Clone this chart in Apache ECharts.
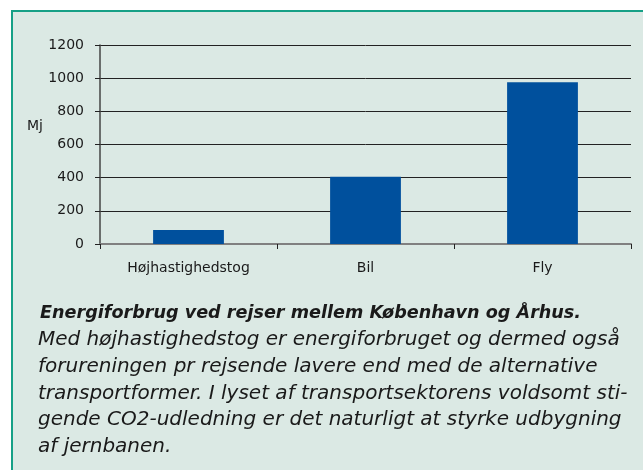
<!DOCTYPE html>
<html>
<head>
<meta charset="utf-8">
<script src="https://cdn.jsdelivr.net/npm/echarts@6/dist/echarts.min.js"></script>
<style>
    html, body { margin: 0; padding: 0; background: #fff; }
    #box {
        position: absolute; left: 11px; top: 10px; width: 640px; height: 470px;
        background: #dbe9e4; border-left: 2px solid #16a086; border-top: 2px solid #16a086;
    }
    #chart { position: absolute; left: 0; top: 0; width: 643px; height: 470px; }
</style>
</head>
<body>
<div id="box"></div>
<div id="chart"></div>
<script>
    // data
    const categories = ['Højhastighedstog', 'Bil', 'Fly'];
    const energy = [85, 405, 975];
    const yTicks = [0, 200, 400, 600, 800, 1000, 1200];
    const unitLabel = 'Mj';
    const captionTitle = 'Energiforbrug ved rejser mellem København og Århus.';
    const captionLines = [
        'Med højhastighedstog er energiforbruget og dermed også',
        'forureningen pr rejsende lavere end med de alternative',
        'transportformer. I lyset af transportsektorens voldsomt sti-',
        'gende CO2-udledning er det naturligt at styrke udbygning',
        'af jernbanen.'
    ];

    const chart = echarts.init(document.getElementById('chart'));
    const font = '"DejaVu Sans", sans-serif';

    const captionGraphics = [{
        type: 'text', x: 40, y: 313,
        style: { text: captionTitle, font: 'italic bold 17.6px ' + font, fill: '#1a1a1a', verticalAlign: 'middle' }
    }].concat(captionLines.map((t, i) => ({
        type: 'text', x: 38, y: 340 + i * 26.7,
        style: { text: t, font: 'italic 20px ' + font, fill: '#1a1a1a', verticalAlign: 'middle' }
    })));

    const option = {
        animation: false,
        grid: { left: 100, right: 12, top: 45, bottom: 226 },
        xAxis: {
            type: 'category',
            data: categories,
            axisLine: { lineStyle: { color: '#808080', width: 2 } },
            axisTick: { show: true, length: 5, lineStyle: { color: '#222' } },
            axisLabel: { color: '#1a1a1a', fontSize: 14, fontFamily: font, margin: 17 }
        },
        yAxis: {
            type: 'value',
            min: yTicks[0],
            max: yTicks[yTicks.length - 1],
            interval: yTicks[1] - yTicks[0],
            axisLine: { show: true, lineStyle: { color: '#444', width: 1.5 } },
            axisTick: { show: true, length: 5, lineStyle: { color: '#222' } },
            axisLabel: { color: '#1a1a1a', fontSize: 14, fontFamily: font, margin: 16, formatter: v => String(v) },
            splitLine: { lineStyle: { color: '#222', width: 1 } }
        },
        series: [{
            type: 'bar',
            data: energy,
            barWidth: '40%',
            itemStyle: { color: '#00509d' }
        }],
        graphic: [{
            type: 'text', x: 27, y: 126,
            style: { text: unitLabel, font: '14px ' + font, fill: '#1a1a1a', verticalAlign: 'middle' }
        }].concat(captionGraphics)
    };

    chart.setOption(option);
</script>
</body>
</html>
